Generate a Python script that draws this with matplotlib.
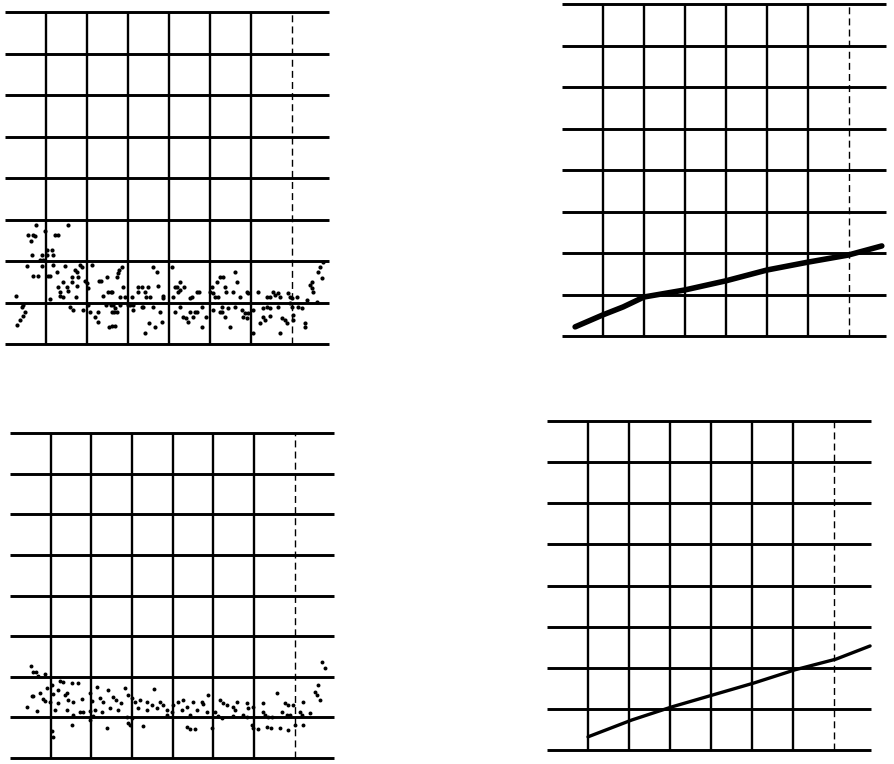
import matplotlib
matplotlib.use("Agg")
import matplotlib.pyplot as plt
import numpy as np

# ---- data (grid-cell units) ----
p1_x = [0.76,1.54,0.98,0.56,0.68,0.73,1.22,1.29,0.63,1.02,1.15,0.66,0.90,1.02,1.17,0.85,0.93,0.54,0.90,1.17,
        1.46,1.83,1.88,2.12,1.71,1.76,0.68,0.80,1.05,1.10,1.27,1.63,1.78,1.41,1.63,1.95,2.00,2.29,2.34,2.49,
        1.29,1.51,1.76,2.02,2.51,2.59,1.34,1.54,1.34,1.41,0.27,1.10,2.39,1.73,0.44,0.41,1.59,2.02,2.46,2.59,
        0.49,1.66,1.90,2.07,2.27,0.44,0.37,2.20,2.27,0.29,2.54,
        2.85,2.78,2.76,2.73,3.61,3.71,4.07,2.88,2.61,3.24,3.34,3.49,3.73,3.24,3.41,2.80,2.93,3.10,3.44,3.54,
        3.85,3.85,4.27,4.15,4.20,4.27,4.37,4.22,4.68,4.73,4.56,4.51,4.10,5.05,5.17,5.00,5.07,5.24,5.12,5.20,
        2.63,2.68,2.80,3.00,3.05,3.12,3.34,3.37,3.61,2.61,2.66,2.73,3.12,3.78,4.15,4.27,4.51,4.63,4.68,4.80,
        4.34,4.41,4.59,4.90,5.07,5.24,5.29,3.51,3.66,3.83,4.46,4.80,2.61,2.68,3.41,
        7.76,7.68,7.63,7.73,7.49,7.44,7.49,7.51,5.61,5.32,5.66,5.37,5.39,5.56,5.73,5.90,5.93,6.17,6.39,6.46,
        6.54,6.59,6.66,6.71,6.90,6.95,7.00,7.12,7.37,7.61,5.29,5.44,5.61,5.78,5.85,5.93,6.05,6.29,6.39,6.46,
        6.66,6.95,7.00,7.15,7.24,5.37,5.80,5.90,6.29,6.34,6.46,6.76,6.83,6.88,7.02,7.02,7.32,7.32,5.49,6.05,
        6.22,6.71]
p1_y = [2.87,2.87,2.72,2.63,2.63,2.60,2.63,2.63,2.48,2.27,2.27,2.14,2.14,2.14,2.14,2.02,2.02,1.88,1.88,1.90,
        1.88,1.90,1.86,1.90,1.78,1.73,1.64,1.64,1.64,1.64,1.73,1.61,1.61,1.49,1.49,1.52,1.47,1.52,1.52,1.61,
        1.37,1.37,1.40,1.35,1.25,1.25,1.25,1.28,1.16,1.13,1.16,1.08,1.16,1.13,0.94,0.89,0.89,0.94,0.94,0.94,
        0.77,0.82,0.82,0.77,0.77,0.67,0.58,0.65,0.53,0.46,0.41,
        1.86,1.78,1.71,1.61,1.86,1.73,1.86,1.37,1.25,1.37,1.37,1.37,1.40,1.25,1.25,1.13,1.13,1.13,1.13,1.13,
        1.16,1.11,1.49,1.37,1.37,1.30,1.37,1.25,1.25,1.25,1.13,1.11,1.13,1.37,1.49,1.25,1.23,1.61,1.13,1.13,
        0.94,0.87,0.94,0.94,0.94,0.94,0.89,0.89,0.89,0.77,0.77,0.77,0.82,0.77,0.77,0.89,0.77,0.77,0.77,0.89,
        0.65,0.63,0.65,0.65,0.82,0.77,0.77,0.51,0.41,0.53,0.53,0.41,0.43,0.43,0.27,
        1.98,1.86,1.73,1.59,1.49,1.42,1.35,1.25,1.73,1.61,1.49,1.37,1.25,1.25,1.13,1.25,1.23,1.25,1.13,1.13,
        1.25,1.18,1.23,1.13,1.23,1.13,1.11,1.13,1.06,1.01,0.89,0.87,0.89,0.82,0.75,0.75,0.82,0.87,0.89,0.87,
        0.89,0.99,0.89,0.89,0.87,0.65,0.65,0.63,0.65,0.58,0.67,0.63,0.58,0.51,0.70,0.58,0.51,0.41,0.41,0.27,
        0.51,0.27]

p3_x = [0.52,0.57,0.64,0.86,0.69,1.23,1.30,1.52,1.67,1.03,0.91,1.18,1.40,1.35,2.14,1.97,2.41,2.83,3.54,0.74,
        0.54,0.57,1.06,0.81,0.86,0.98,1.18,1.43,1.55,1.77,2.01,2.21,2.29,2.53,2.60,2.73,2.90,3.00,3.07,3.19,
        3.37,3.49,3.69,3.76,4.00,4.13,4.25,4.35,4.50,4.72,4.74,4.86,5.16,5.23,5.33,5.48,5.53,5.58,5.82,5.85,
        5.97,6.22,6.56,6.76,6.83,6.95,7.20,7.49,7.54,7.57,7.67,7.74,7.62,0.66,1.11,1.40,1.72,1.79,1.97,2.09,
        2.26,2.46,2.65,3.14,3.37,3.61,3.86,3.98,4.23,4.42,4.59,4.84,5.04,5.11,5.21,5.48,5.72,5.82,6.22,6.27,
        6.34,6.44,6.68,6.81,6.88,7.13,7.17,7.37,1.55,2.04,2.87,3.00,3.86,1.52,1.97,2.38,2.90,2.95,3.27,4.35,
        4.42,4.55,4.96,5.95,5.97,6.09,6.31,6.41,6.63,6.83,7.00,7.20,1.03,1.06,0.42]
p3_y = [2.27,2.12,2.12,2.07,2.02,1.90,1.87,1.85,1.85,1.80,1.72,1.67,1.60,1.55,1.75,1.60,1.67,1.72,1.70,1.60,
        1.53,1.53,1.58,1.45,1.40,1.38,1.35,1.43,1.38,1.45,1.40,1.48,1.38,1.50,1.43,1.35,1.55,1.48,1.38,1.43,
        1.38,1.31,1.38,1.31,1.31,1.38,1.43,1.26,1.38,1.38,1.33,1.55,1.43,1.35,1.31,1.26,1.18,1.38,1.35,1.23,
        1.26,1.35,1.60,1.35,1.31,1.31,1.38,1.63,1.55,1.80,2.36,2.22,1.43,1.16,1.18,1.18,1.13,1.13,1.16,1.18,
        1.13,1.23,1.18,1.23,1.18,1.23,1.18,1.13,1.18,1.06,1.18,1.13,1.13,1.03,0.99,1.03,1.06,1.01,1.13,1.06,
        1.01,1.01,1.13,1.06,1.06,1.13,1.06,1.11,1.06,1.03,1.01,0.99,1.06,0.81,0.94,0.74,0.86,0.81,0.79,0.76,
        0.71,0.71,0.74,0.81,0.74,0.71,0.76,0.74,0.74,0.69,0.81,0.81,0.67,0.52,1.26]

p2_x = [0.32, 1.00, 1.49, 2.00, 3.00, 4.00, 5.00, 6.00, 6.98, 7.80]
p2_y = [0.22, 0.51, 0.70, 0.94, 1.11, 1.33, 1.59, 1.78, 1.95, 2.17]

p4_x = [1.00, 2.07, 3.05, 4.05, 5.05, 6.05, 7.05, 7.88]
p4_y = [0.32, 0.73, 1.05, 1.34, 1.63, 1.95, 2.21, 2.53]

# ---- figure ----
W, H = 895, 764
fig = plt.figure(figsize=(W / 100, H / 100), dpi=100)
fig.patch.set_facecolor("white")


def make_axes(left, top, cell_w, bottom, ncols=8):
    width = cell_w * ncols
    ax = fig.add_axes([left / W, (H - bottom) / H, width / W, (bottom - top) / H])
    ax.set_xlim(0, ncols)
    ax.set_ylim(0, 8)
    ax.axis("off")
    return ax


def draw_grid(ax, hx_end, vlines_solid, vline_dashed):
    ax.hlines(np.arange(9), 0, hx_end, colors="black", linewidth=2.1, clip_on=False)
    ax.vlines(vlines_solid, 0, 8, colors="black", linewidth=1.7, clip_on=False)
    ax.vlines([vline_dashed], 0, 8, colors="black", linewidth=1.0,
              linestyles=(0, (5, 3)), clip_on=False)


# panel 1 (top-left)
ax1 = make_axes(5, 12, 41, 344)
draw_grid(ax1, 7.9, [1, 2, 3, 4, 5, 6], 7)
ax1.scatter(p1_x, p1_y, s=9, color="black", linewidths=0, zorder=3)

# panel 2 (top-right)
ax2 = make_axes(562, 4, 41, 336)
draw_grid(ax2, 7.9, [1, 2, 3, 4, 5, 6], 7)
ax2.plot(p2_x, p2_y, color="black", linewidth=4.0, solid_capstyle="round", zorder=3)

# panel 3 (bottom-left)
ax3 = make_axes(10, 433, 40.7, 758)
draw_grid(ax3, 7.95, [1, 2, 3, 4, 5, 6], 7)
ax3.scatter(p3_x, p3_y, s=8, color="black", linewidths=0, zorder=3)

# panel 4 (bottom-right)
ax4 = make_axes(547, 421, 41, 750)
draw_grid(ax4, 7.9, [1, 2, 3, 4, 5, 6], 7)
ax4.plot(p4_x, p4_y, color="black", linewidth=2.4, solid_capstyle="round", zorder=3)

fig.savefig("out.png", dpi=100, facecolor="white")
